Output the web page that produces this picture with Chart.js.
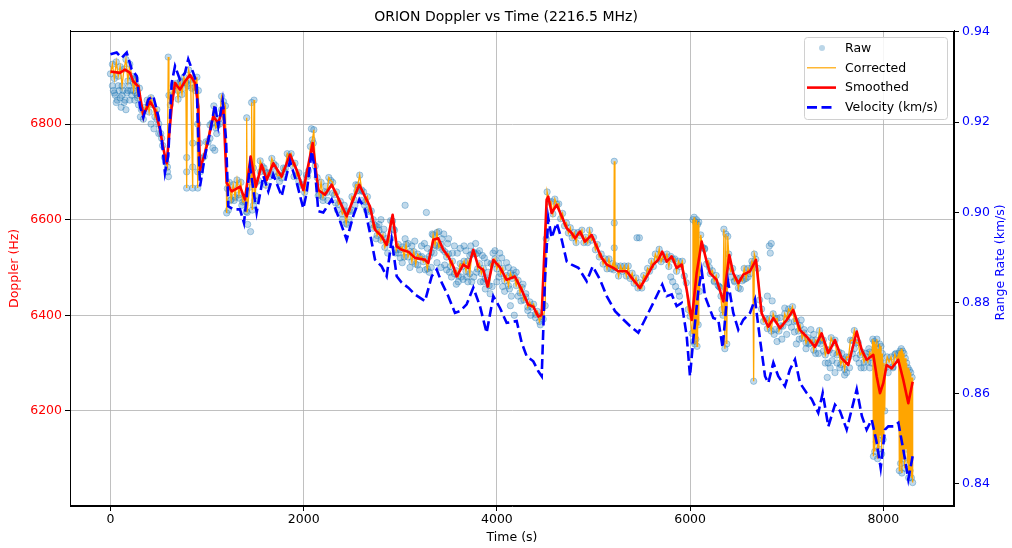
<!DOCTYPE html>
<html>
<head>
<meta charset="utf-8">
<title>ORION Doppler vs Time</title>
<script src="https://cdn.jsdelivr.net/npm/chart.js@4/dist/chart.umd.min.js"></script>
<style>
  html, body { margin: 0; padding: 0; background: #fff; }
  #wrap { position: relative; width: 1012px; height: 548px; }
</style>
</head>
<body>
<div id="wrap"><canvas id="dopplerChart" width="1012" height="548"></canvas></div>
<script>
/* ORION Doppler vs Time */

// Smoothed Doppler (Hz): [time s, Hz]
const smoothPts = [
  [0,6910],[98,6907],[150,6914],[202,6907],[236,6889],[288,6879],[340,6819],[409,6847],[461,6830],[512,6788],
  [564,6732],[582,6718],[634,6837],[668,6886],[719,6872],[771,6889],[823,6903],[875,6886],[909,6837],[927,6704],
  [996,6753],[1064,6816],[1116,6802],[1168,6837],[1203,6677],[1255,6659],[1341,6669],[1392,6642],[1451,6732],[1506,6669],
  [1565,6715],[1617,6683],[1685,6718],[1772,6690],[1858,6736],[1928,6704],[1996,6662],[2093,6760],[2151,6662],[2220,6652],
  [2290,6673],[2358,6645],[2445,6607],[2513,6642],[2576,6673],[2635,6648],[2686,6628],[2738,6579],[2807,6565],[2859,6547],
  [2921,6610],[2963,6544],[3014,6537],[3083,6533],[3152,6520],[3256,6516],[3290,6509],[3342,6558],[3393,6561],[3445,6537],
  [3497,6523],[3549,6502],[3584,6481],[3652,6506],[3704,6499],[3756,6537],[3807,6502],[3859,6495],[3905,6460],[3963,6516],
  [4032,6500],[4101,6474],[4187,6481],[4257,6453],[4325,6422],[4377,6418],[4429,6397],[4464,6401],[4515,6642],[4532,6648],
  [4567,6614],[4619,6631],[4671,6607],[4723,6582],[4774,6572],[4809,6561],[4860,6575],[4912,6554],[4981,6568],[5033,6544],
  [5085,6520],[5137,6506],[5205,6499],[5257,6492],[5344,6492],[5412,6474],[5481,6457],[5551,6481],[5619,6506],[5671,6516],
  [5712,6533],[5758,6512],[5810,6523],[5861,6499],[5913,6506],[5965,6453],[6017,6390],[6068,6488],[6120,6554],[6172,6512],
  [6206,6488],[6275,6474],[6344,6429],[6406,6526],[6447,6488],[6499,6467],[6551,6485],[6620,6492],[6682,6516],[6741,6404],
  [6810,6376],[6862,6394],[6931,6373],[7000,6390],[7068,6411],[7138,6369],[7207,6355],[7293,6334],[7362,6362],[7431,6321],
  [7500,6348],[7569,6310],[7638,6296],[7725,6366],[7776,6328],[7828,6307],[7897,6317],[7932,6272],[7966,6237],[8000,6258],
  [8035,6296],[8087,6289],[8155,6307],[8207,6265],[8259,6216],[8304,6261]
];

// Range rate (km/s), right axis: [time s, km/s]
const velocityPts = [
  [0,0.9350],[64,0.9354],[116,0.9342],[168,0.9354],[219,0.9317],[271,0.9302],[305,0.9235],[340,0.9210],[391,0.9250],[443,0.9258],
  [495,0.9213],[530,0.9162],[564,0.9088],[598,0.9125],[634,0.9287],[668,0.9324],[719,0.9294],[771,0.9309],[805,0.9339],[857,0.9309],
  [892,0.9287],[909,0.9162],[927,0.9058],[978,0.9125],[1030,0.9177],[1082,0.9239],[1116,0.9191],[1161,0.9247],[1196,0.9162],[1220,0.9014],
  [1271,0.9007],[1341,0.9007],[1382,0.8977],[1444,0.9103],[1513,0.9000],[1582,0.9081],[1634,0.9047],[1685,0.9084],[1772,0.9036],[1858,0.9114],
  [1928,0.9066],[1996,0.9009],[2031,0.9044],[2083,0.9136],[2117,0.9095],[2151,0.9003],[2203,0.9000],[2290,0.9029],[2358,0.8992],[2445,0.8940],
  [2513,0.8992],[2576,0.9029],[2635,0.9007],[2686,0.8955],[2738,0.8896],[2807,0.8881],[2859,0.8859],[2911,0.8940],[2963,0.8859],[3014,0.8845],
  [3083,0.8834],[3152,0.8819],[3256,0.8804],[3325,0.8859],[3377,0.8874],[3429,0.8845],[3497,0.8815],[3566,0.8778],[3618,0.8782],[3687,0.8797],
  [3756,0.8834],[3825,0.8793],[3894,0.8734],[3963,0.8815],[4032,0.8789],[4101,0.8756],[4205,0.8760],[4257,0.8712],[4309,0.8682],[4377,0.8671],
  [4429,0.8649],[4464,0.8638],[4498,0.8852],[4532,0.8988],[4567,0.8944],[4619,0.8977],[4671,0.8940],[4723,0.8892],[4774,0.8885],[4843,0.8878],
  [4930,0.8848],[4992,0.8881],[5067,0.8852],[5137,0.8815],[5223,0.8782],[5292,0.8767],[5378,0.8749],[5464,0.8734],[5551,0.8771],[5637,0.8808],
  [5712,0.8841],[5758,0.8815],[5810,0.8819],[5861,0.8793],[5913,0.8800],[5965,0.8727],[5999,0.8638],[6033,0.8719],[6085,0.8826],[6120,0.8872],
  [6154,0.8815],[6240,0.8767],[6292,0.8763],[6337,0.8701],[6395,0.8845],[6447,0.8778],[6499,0.8741],[6551,0.8763],[6620,0.8778],[6672,0.8808],
  [6724,0.8719],[6776,0.8638],[6810,0.8623],[6862,0.8668],[6913,0.8638],[6982,0.8616],[7034,0.8653],[7086,0.8675],[7138,0.8623],[7207,0.8601],
  [7259,0.8587],[7327,0.8557],[7373,0.8601],[7431,0.8527],[7500,0.8575],[7552,0.8561],[7621,0.8520],[7725,0.8609],[7778,0.8550],[7828,0.8520],
  [7880,0.8542],[7932,0.8491],[7973,0.8435],[8018,0.8520],[8052,0.8527],[8104,0.8527],[8156,0.8535],[8207,0.8476],[8259,0.8410],[8304,0.8461]
];

// Corrected Doppler (Hz), with its jitter and spikes: [time s, Hz]
const correctedPts = [
  [0,6905],[20,6925],[40,6895],[60,6930],[80,6900],[100,6920],[120,6880],[140,6915],[160,6935],[180,6890],
  [200,6925],[220,6900],[240,6870],[260,6895],[280,6860],[300,6875],[320,6830],[340,6810],[360,6835],[380,6850],
  [400,6825],[420,6855],[440,6840],[460,6815],[480,6830],[500,6800],[520,6780],[540,6755],[560,6730],[575,6720],
  [590,6710],[598,6940],[605,6860],[620,6840],[640,6868],[660,6880],[680,6885],[700,6852],[720,6888],[740,6862],
  [760,6898],[780,6887],[789,6666],[795,6885],[810,6913],[830,6892],[851,6666],[857,6895],[875,6877],[895,6898],
  [903,6666],[910,6870],[920,6760],[930,6700],[950,6728],[970,6732],[990,6763],[1010,6762],[1030,6798],[1050,6802],
  [1070,6838],[1090,6792],[1110,6798],[1130,6812],[1150,6858],[1170,6847],[1190,6838],[1203,6614],[1210,6665],[1230,6678],
  [1250,6642],[1270,6673],[1290,6647],[1310,6683],[1330,6652],[1350,6678],[1370,6637],[1390,6638],[1405,6617],[1410,6813],
  [1415,6615],[1440,6668],[1455,6692],[1461,6845],[1468,6620],[1480,6708],[1486,6850],[1492,6640],[1510,6678],[1530,6682],
  [1550,6723],[1570,6712],[1590,6708],[1610,6672],[1630,6698],[1650,6697],[1670,6728],[1690,6717],[1710,6713],[1730,6692],
  [1750,6693],[1770,6687],[1790,6708],[1810,6707],[1830,6738],[1850,6732],[1870,6738],[1890,6712],[1910,6718],[1930,6692],
  [1950,6698],[1970,6672],[1990,6673],[2010,6657],[2030,6693],[2050,6702],[2070,6753],[2090,6767],[2105,6788],[2120,6712],
  [2140,6688],[2160,6652],[2180,6678],[2200,6647],[2220,6658],[2240,6657],[2260,6688],[2280,6682],[2300,6678],[2320,6652],
  [2340,6658],[2360,6632],[2380,6638],[2400,6612],[2420,6618],[2440,6592],[2460,6618],[2480,6617],[2500,6648],[2520,6642],
  [2540,6673],[2560,6672],[2580,6693],[2600,6662],[2620,6658],[2640,6637],[2660,6648],[2680,6617],[2700,6618],[2720,6582],
  [2740,6588],[2760,6567],[2780,6578],[2800,6557],[2820,6568],[2840,6542],[2860,6553],[2880,6552],[2900,6598],[2920,6597],
  [2940,6578],[2960,6537],[2980,6548],[3000,6537],[3020,6543],[3040,6522],[3060,6548],[3080,6522],[3100,6533],[3120,6512],
  [3140,6533],[3160,6507],[3180,6528],[3200,6522],[3220,6523],[3240,6512],[3260,6518],[3280,6497],[3300,6523],[3320,6532],
  [3340,6568],[3360,6547],[3380,6573],[3400,6542],[3420,6548],[3440,6537],[3460,6533],[3480,6522],[3500,6528],[3520,6502],
  [3540,6513],[3560,6487],[3580,6493],[3600,6482],[3620,6508],[3640,6502],[3660,6513],[3680,6492],[3700,6513],[3720,6487],
  [3740,6528],[3760,6532],[3780,6528],[3800,6497],[3820,6508],[3840,6487],[3860,6498],[3880,6477],[3900,6473],[3920,6462],
  [3940,6508],[3960,6507],[3980,6518],[4000,6497],[4020,6508],[4040,6487],[4060,6498],[4080,6472],[4100,6483],[4120,6462],
  [4140,6488],[4160,6477],[4180,6483],[4200,6462],[4220,6473],[4240,6447],[4260,6458],[4280,6432],[4300,6438],[4320,6417],
  [4340,6428],[4360,6417],[4380,6423],[4400,6402],[4420,6408],[4440,6387],[4460,6398],[4480,6392],[4500,6420],[4510,6560],
  [4520,6658],[4540,6637],[4560,6638],[4580,6612],[4600,6643],[4620,6632],[4640,6633],[4660,6602],[4680,6613],[4700,6587],
  [4720,6593],[4740,6572],[4760,6583],[4780,6562],[4800,6573],[4820,6552],[4840,6573],[4860,6567],[4880,6578],[4900,6552],
  [4920,6563],[4940,6552],[4960,6578],[4980,6557],[5000,6563],[5020,6537],[5040,6548],[5060,6522],[5080,6528],[5100,6507],
  [5120,6518],[5140,6497],[5160,6518],[5180,6497],[5200,6508],[5210,6495],[5215,6722],[5222,6500],[5240,6503],[5260,6482],
  [5280,6503],[5300,6492],[5320,6503],[5340,6482],[5360,6503],[5380,6477],[5400,6488],[5420,6467],[5440,6478],[5460,6457],
  [5480,6468],[5500,6457],[5520,6483],[5540,6477],[5560,6498],[5580,6492],[5600,6513],[5620,6502],[5640,6528],[5660,6517],
  [5680,6538],[5700,6512],[5720,6523],[5740,6517],[5760,6528],[5780,6502],[5800,6523],[5820,6517],[5840,6518],[5860,6492],
  [5880,6513],[5900,6502],[5920,6513],[5940,6482],[5960,6468],[5980,6412],[6000,6398],[6020,6362],[6030,6600],[6036,6345],
  [6042,6605],[6048,6340],[6054,6595],[6060,6350],[6066,6600],[6072,6335],[6078,6590],[6084,6380],[6090,6595],[6098,6450],
  [6110,6568],[6130,6542],[6150,6538],[6170,6507],[6190,6513],[6210,6487],[6230,6493],[6250,6472],[6270,6483],[6290,6462],
  [6310,6458],[6330,6412],[6340,6400],[6350,6580],[6360,6330],[6370,6570],[6380,6340],[6390,6565],[6400,6528],[6420,6492],
  [6440,6498],[6460,6472],[6480,6478],[6500,6457],[6520,6478],[6540,6472],[6560,6498],[6580,6477],[6600,6498],[6620,6487],
  [6640,6513],[6650,6507],[6658,6262],[6665,6528],[6680,6517],[6700,6498],[6720,6432],[6740,6413],[6760,6387],[6780,6393],
  [6800,6372],[6820,6393],[6840,6367],[6860,6403],[6880,6392],[6900,6393],[6920,6367],[6940,6378],[6960,6377],[6980,6403],
  [7000,6392],[7020,6413],[7040,6407],[7060,6418],[7080,6387],[7100,6388],[7120,6367],[7140,6378],[7160,6352],[7180,6363],
  [7200,6342],[7220,6353],[7240,6342],[7260,6348],[7280,6327],[7300,6348],[7320,6342],[7340,6368],[7360,6347],[7380,6348],
  [7400,6317],[7420,6328],[7440,6327],[7460,6353],[7480,6342],[7500,6348],[7520,6317],[7540,6323],[7560,6297],[7580,6308],
  [7600,6287],[7620,6313],[7640,6312],[7660,6348],[7680,6347],[7700,6368],[7720,6342],[7740,6343],[7760,6317],[7780,6323],
  [7800,6302],[7820,6313],[7840,6302],[7860,6323],[7880,6312],[7892,6350],[7898,6105],[7905,6345],[7912,6115],[7920,6340],
  [7927,6135],[7934,6350],[7941,6100],[7948,6330],[7955,6120],[7962,6340],[7969,6150],[7976,6335],[7983,6110],[7990,6320],
  [7998,6140],[8006,6300],[8015,6200],[8022,6290],[8040,6313],[8060,6302],[8080,6313],[8100,6292],[8120,6318],[8140,6307],
  [8160,6320],[8166,6075],[8172,6325],[8179,6090],[8186,6330],[8193,6070],[8200,6325],[8207,6100],[8214,6320],[8221,6080],
  [8228,6310],[8235,6120],[8242,6300],[8249,6090],[8256,6290],[8263,6060],[8270,6285],[8277,6075],[8284,6280],[8291,6060],
  [8298,6270],[8304,6050]
];

// Raw samples that sit off the corrected line: [time s, Hz]
const rawExtraPts = [
  [20,6880],[30,6870],[40,6865],[50,6860],[60,6845],[70,6850],[80,6880],[90,6870],[100,6855],[110,6835],
  [120,6860],[130,6870],[140,6845],[150,6850],[160,6830],[170,6865],[180,6870],[190,6880],[200,6850],[210,6870],
  [220,6860],[230,6895],[240,6885],[250,6850],[260,6865],[270,6880],[280,6855],[290,6840],[310,6815],[420,6800],
  [450,6790],[480,6810],[500,6780],[530,6770],[590,6700],[600,6690],[650,6880],[700,6870],[730,6890],[760,6875],
  [800,6880],[840,6875],[880,6870],[789,6730],[789,6700],[851,6760],[851,6710],[903,6800],[903,6700],[1030,6770],
  [1060,6750],[1080,6745],[1100,6780],[1130,6800],[1150,6830],[1220,6620],[1240,6640],[1280,6640],[1330,6645],[1360,6630],
  [1420,6590],[1450,6575],[1480,6630],[1500,6650],[1550,6700],[1600,6700],[1650,6690],[1700,6700],[1750,6680],[1800,6700],
  [1850,6720],[1900,6690],[1950,6680],[2040,6690],[2080,6790],[2100,6760],[2150,6650],[2200,6640],[2230,6670],[2250,6640],
  [2300,6655],[2330,6635],[2350,6620],[2400,6600],[2420,6630],[2450,6590],[2470,6600],[2500,6620],[2530,6630],[2550,6660],
  [2580,6660],[2600,6640],[2630,6630],[2650,6620],[2700,6590],[2720,6600],[2750,6560],[2760,6585],[2780,6590],[2800,6600],
  [2830,6580],[2850,6560],[2870,6530],[2900,6560],[2930,6580],[2950,6530],[2980,6530],[3000,6520],[3020,6510],[3050,6630],
  [3050,6560],[3080,6550],[3100,6500],[3120,6545],[3150,6555],[3180,6505],[3200,6495],[3220,6545],[3250,6550],[3260,6495],
  [3270,6615],[3280,6540],[3300,6490],[3320,6500],[3330,6570],[3350,6530],[3370,6545],[3380,6510],[3400,6575],[3420,6500],
  [3430,6560],[3450,6570],[3460,6505],[3480,6495],[3490,6550],[3500,6560],[3510,6490],[3530,6480],[3540,6530],[3560,6545],
  [3580,6465],[3590,6530],[3600,6470],[3620,6540],[3630,6480],[3650,6475],[3660,6545],[3680,6535],[3690,6480],[3700,6470],
  [3720,6525],[3730,6545],[3740,6470],[3760,6480],[3780,6550],[3790,6490],[3800,6530],[3820,6535],[3830,6470],[3850,6525],
  [3860,6470],[3870,6520],[3880,6455],[3900,6510],[3910,6490],[3930,6445],[3950,6460],[3960,6530],[3980,6535],[4000,6470],
  [4020,6480],[4030,6530],[4050,6520],[4060,6460],[4080,6450],[4100,6510],[4120,6500],[4130,6455],[4140,6420],[4150,6440],
  [4170,6495],[4180,6400],[4200,6490],[4220,6440],[4250,6430],[4270,6465],[4300,6445],[4320,6410],[4350,6400],[4400,6395],
  [4450,6380],[5215,6593],[5215,6541],[5450,6562],[5475,6562],[5800,6480],[5820,6470],[5850,6460],[5880,6450],[5890,6440],
  [6150,6540],[6200,6500],[6250,6470],[6300,6460],[6320,6440],[6420,6480],[6460,6470],[6520,6455],[6560,6475],[6600,6480],
  [6640,6500],[6800,6440],[6820,6545],[6830,6530],[6840,6550],[6850,6430],[6870,6360],[6880,6370],[6900,6345],[6930,6395],
  [6950,6350],[6980,6415],[7000,6360],[7020,6385],[7050,6375],[7080,6365],[7100,6340],[7130,6350],[7150,6390],[7180,6370],
  [7200,6330],[7230,6340],[7250,6370],[7280,6360],[7300,6320],[7330,6320],[7350,6340],[7380,6325],[7400,6300],[7420,6270],
  [7430,6300],[7450,6290],[7470,6305],[7480,6320],[7500,6280],[7520,6300],[7550,6290],[7570,6320],[7600,6275],[7620,6280],
  [7650,6290],[7680,6320],[7700,6330],[7720,6310],[7750,6300],[7770,6290],[7800,6290],[7820,6320],[7850,6330],[7860,6290],
  [7880,6300],[8050,6280],[8100,6290],[8130,6320]
];

// Axis ticks
const timeTicks = [0, 2000, 4000, 6000, 8000];
const dopplerTicks = [6200, 6400, 6600, 6800];
const rateTicks = [0.84, 0.86, 0.88, 0.90, 0.92, 0.94];

const FONT = 'DejaVu Sans';
const toXY = pts => pts.map(p => ({ x: p[0], y: p[1] }));
const rawData = toXY(correctedPts.concat(rawExtraPts));

const legendItems = [
  { label: 'Raw', kind: 'dot', color: 'rgba(31,119,180,0.3)' },
  { label: 'Corrected', kind: 'line', color: '#ffa500', width: 1.2 },
  { label: 'Smoothed', kind: 'line', color: '#ff0000', width: 2.6 },
  { label: 'Velocity (km/s)', kind: 'dash', color: '#0000ff', width: 2.6 }
];

const framePlugin = {
  id: 'framePlugin',
  afterDraw(chart) {
    const { ctx, chartArea: a } = chart;
    ctx.save();
    // axes frame
    ctx.strokeStyle = '#000';
    ctx.lineWidth = 1;
    ctx.strokeRect(Math.round(a.left) + 0.5, Math.round(a.top) + 0.5,
      Math.round(a.right - a.left) - 1, Math.round(a.bottom - a.top) - 1);

    // right axis label, reading bottom to top
    ctx.fillStyle = '#0000ff';
    ctx.font = '12.5px "' + FONT + '"';
    ctx.textAlign = 'center';
    ctx.textBaseline = 'middle';
    ctx.translate(1001, (a.top + a.bottom) / 2 - 6);
    ctx.rotate(-Math.PI / 2);
    ctx.fillText('Range Rate (km/s)', 0, 0);
    ctx.restore();

    // legend box, upper right
    ctx.save();
    const bx = 804.5, by = 37.5, bw = 143, bh = 82, r = 3;
    ctx.beginPath();
    ctx.moveTo(bx + r, by);
    ctx.arcTo(bx + bw, by, bx + bw, by + bh, r);
    ctx.arcTo(bx + bw, by + bh, bx, by + bh, r);
    ctx.arcTo(bx, by + bh, bx, by, r);
    ctx.arcTo(bx, by, bx + bw, by, r);
    ctx.closePath();
    ctx.fillStyle = 'rgba(255,255,255,0.85)';
    ctx.fill();
    ctx.strokeStyle = '#d0d0d0';
    ctx.lineWidth = 1;
    ctx.stroke();

    ctx.font = '12.5px "' + FONT + '"';
    ctx.textAlign = 'left';
    ctx.textBaseline = 'middle';
    legendItems.forEach((it, i) => {
      const y = 48 + i * 19.8;
      if (it.kind === 'dot') {
        ctx.fillStyle = it.color;
        ctx.beginPath();
        ctx.arc(822, y, 3, 0, Math.PI * 2);
        ctx.fill();
      } else {
        ctx.strokeStyle = it.color;
        ctx.lineWidth = it.width;
        ctx.setLineDash(it.kind === 'dash' ? [10, 4.5] : []);
        ctx.beginPath();
        ctx.moveTo(807, y);
        ctx.lineTo(836, y);
        ctx.stroke();
        ctx.setLineDash([]);
      }
      ctx.fillStyle = '#000';
      ctx.fillText(it.label, 845, y + 0.5);
    });
    ctx.restore();
  }
};

new Chart(document.getElementById('dopplerChart'), {
  type: 'scatter',
  data: {
    datasets: [
      {
        label: 'Velocity (km/s)',
        data: toXY(velocityPts),
        yAxisID: 'y2',
        showLine: true,
        borderColor: '#0000ff',
        borderWidth: 2.6,
        borderDash: [10, 4.5],
        pointRadius: 0,
        tension: 0,
        order: 1
      },
      {
        label: 'Smoothed',
        data: toXY(smoothPts),
        yAxisID: 'y',
        showLine: true,
        borderColor: '#ff0000',
        borderWidth: 2.6,
        borderJoinStyle: 'round',
        pointRadius: 0,
        tension: 0,
        order: 2
      },
      {
        label: 'Corrected',
        data: toXY(correctedPts),
        yAxisID: 'y',
        showLine: true,
        borderColor: '#ffa500',
        borderWidth: 1.3,
        pointRadius: 0,
        tension: 0,
        order: 3
      },
      {
        label: 'Raw',
        data: rawData,
        yAxisID: 'y',
        showLine: false,
        pointRadius: 3.2,
        pointBorderWidth: 1,
        pointBorderColor: 'rgba(31,119,180,0.35)',
        pointBackgroundColor: 'rgba(31,119,180,0.28)',
        order: 4
      }
    ]
  },
  options: {
    responsive: false,
    animation: false,
    events: [],
    layout: { padding: 0 },
    plugins: {
      legend: { display: false },
      tooltip: { enabled: false },
      title: {
        display: true,
        text: 'ORION Doppler vs Time (2216.5 MHz)',
        color: '#000',
        font: { family: FONT, size: 14, weight: 'normal' },
        padding: { top: 9, bottom: 5 }
      }
    },
    scales: {
      x: {
        type: 'linear',
        position: 'bottom',
        min: -419,
        max: 8732,
        afterBuildTicks: s => { s.ticks = timeTicks.map(v => ({ value: v })); },
        afterFit: s => { s.height = 42; },
        ticks: {
          color: '#000',
          font: { family: FONT, size: 12.5 },
          padding: 1,
          maxRotation: 0,
          callback: v => String(v)
        },
        grid: { color: '#b0b0b0', lineWidth: 0.8, tickLength: 5, tickColor: '#000', tickWidth: 1 },
        border: { color: '#000', width: 1 },
        title: {
          display: true,
          text: 'Time (s)',
          color: '#000',
          font: { family: FONT, size: 12.5 },
          padding: { top: 0, bottom: 3 }
        }
      },
      y: {
        type: 'linear',
        position: 'left',
        min: 6001,
        max: 6995,
        afterBuildTicks: s => { s.ticks = dopplerTicks.map(v => ({ value: v })); },
        afterFit: s => { s.width = 70; },
        ticks: {
          color: '#ff0000',
          font: { family: FONT, size: 12.5 },
          padding: 3,
          callback: v => String(v)
        },
        grid: { color: '#b0b0b0', lineWidth: 0.8, tickLength: 5, tickColor: '#000', tickWidth: 1 },
        border: { color: '#000', width: 1 },
        title: {
          display: true,
          text: 'Doppler (Hz)',
          color: '#ff0000',
          font: { family: FONT, size: 12.5 },
          padding: { top: 7, bottom: 0 }
        }
      },
      y2: {
        type: 'linear',
        position: 'right',
        min: 0.8351,
        max: 0.9402,
        afterBuildTicks: s => { s.ticks = rateTicks.map(v => ({ value: v })); },
        afterFit: s => { s.width = 58; },
        ticks: {
          color: '#0000ff',
          font: { family: FONT, size: 12.5 },
          padding: 3,
          callback: v => v.toFixed(2)
        },
        grid: { drawOnChartArea: false, tickLength: 5, tickColor: '#000', tickWidth: 1 },
        border: { color: '#000', width: 1 }
      }
    }
  },
  plugins: [framePlugin]
});
</script>
</body>
</html>
